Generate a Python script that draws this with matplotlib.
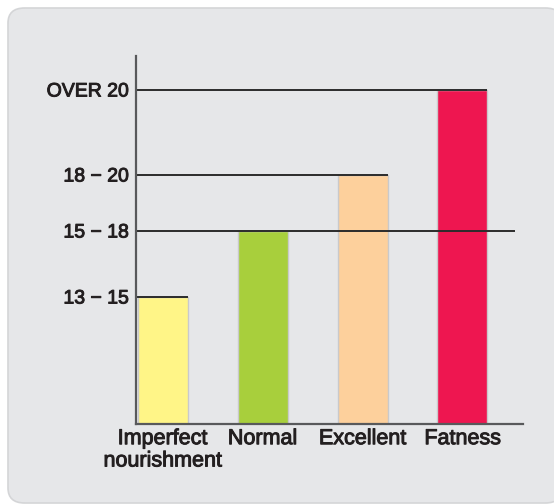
import matplotlib.pyplot as plt
import matplotlib.patheffects as pe
from matplotlib.patches import FancyBboxPatch

# data
categories = ['Imperfect\nnourishment', 'Normal', 'Excellent', 'Fatness']
levels = [12.7, 19.3, 24.9, 33.4]
level_labels = ['13 \u2212 15', '15 \u2212 18', '18 \u2212 20', 'OVER 20']
colors = ['#fff587', '#a8cf3c', '#fdd09c', '#ee1650']

plt.rcParams['font.family'] = ['Liberation Sans', 'DejaVu Sans']

fig = plt.figure(figsize=(5.54, 5.04), dpi=100)
fig.patch.set_facecolor('white')

# rounded grey panel (runs off the right edge)
panel = FancyBboxPatch((8 / 554, 1 / 504), 1.0, 495 / 504,
                       boxstyle='round,pad=0,rounding_size=0.03',
                       transform=fig.transFigure, facecolor='#e6e7e9',
                       edgecolor='#d4d5d7', linewidth=1.2, zorder=-1)
fig.patches.append(panel)

ax = fig.add_axes([136 / 554, 80 / 504, 387 / 554, 368 / 504])
ax.set_zorder(1)
ax.patch.set_visible(False)

x = list(range(len(categories)))
width = 0.5
ax.bar(x, levels, width=width, color=colors, edgecolor='#c9c9cb',
       linewidth=1.0, zorder=2)

# level lines, each runs from the axis to its bar (15-18 runs further)
line_ends = [x[0] + width / 2, 3.525, x[2] + width / 2, x[3] + width / 2]
for lv, xe in zip(levels, line_ends):
    ax.plot([-0.265, xe], [lv, lv], color='#2b2b2b', linewidth=1.4, zorder=3,
            solid_capstyle='butt')

ax.set_xlim(-0.265, 3.605)
ax.set_ylim(0, 36.8)

ax.set_yticks(levels)
ax.set_yticklabels(level_labels, fontsize=14, color='#231f20')
ax.set_xticks(x)
ax.set_xticklabels(categories, fontsize=15.5, color='#231f20', linespacing=1.08)
ax.tick_params(axis='both', length=0)
ax.tick_params(axis='y', pad=5)
ax.tick_params(axis='x', pad=3)

# slightly heavier text like the original
heavy = [pe.withStroke(linewidth=0.7, foreground='#231f20')]
for t in ax.get_xticklabels() + ax.get_yticklabels():
    t.set_path_effects(heavy)

for s in ['top', 'right']:
    ax.spines[s].set_visible(False)
for s in ['left', 'bottom']:
    ax.spines[s].set_color('#58595b')
    ax.spines[s].set_linewidth(1.6)
    ax.spines[s].set_zorder(4)

fig.savefig('out.png', dpi=100)
